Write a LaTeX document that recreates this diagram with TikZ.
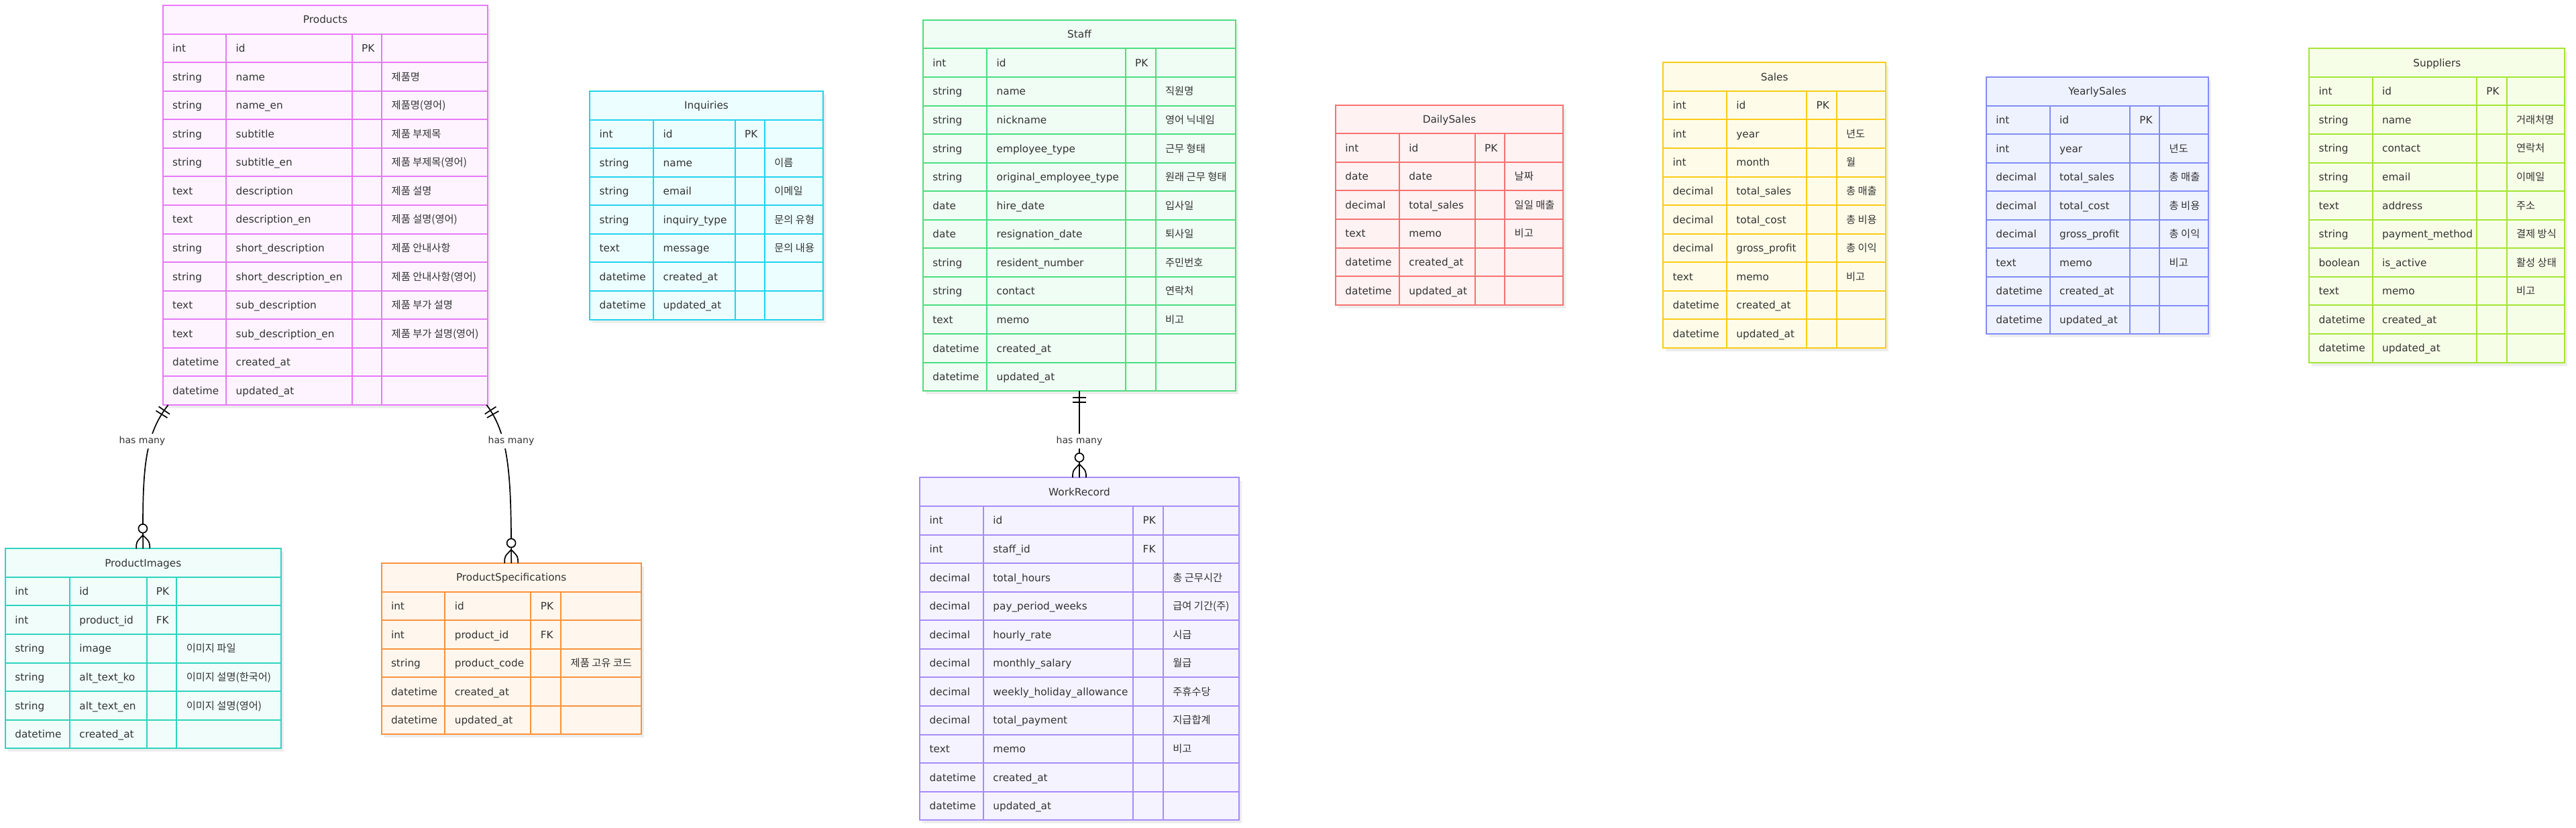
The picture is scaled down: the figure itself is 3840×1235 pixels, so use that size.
\documentclass[tikz,border=0pt]{standalone}
\usepackage{fontspec}
\setmainfont{DejaVu Sans}
\newfontfamily\cjk{Noto Sans CJK KR}
\usetikzlibrary{decorations.markings}
\definecolor{txt}{HTML}{333333}
\definecolor{pbd}{HTML}{E879F9}\definecolor{pbg}{HTML}{FDF4FF}
\definecolor{tbd}{HTML}{2DD4BF}\definecolor{tbg}{HTML}{F0FDFA}
\definecolor{obd}{HTML}{FB923C}\definecolor{obg}{HTML}{FFF7ED}
\definecolor{cbd}{HTML}{22D3EE}\definecolor{cbg}{HTML}{ECFEFF}
\definecolor{gbd}{HTML}{4ADE80}\definecolor{gbg}{HTML}{F0FDF4}
\definecolor{vbd}{HTML}{A78BFA}\definecolor{vbg}{HTML}{F5F3FF}
\definecolor{rbd}{HTML}{F87171}\definecolor{rbg}{HTML}{FEF2F2}
\definecolor{ybd}{HTML}{FACC15}\definecolor{ybg}{HTML}{FEFCE8}
\definecolor{ibd}{HTML}{818CF8}\definecolor{ibg}{HTML}{EEF2FF}
\definecolor{lbd}{HTML}{A3E635}\definecolor{lbg}{HTML}{F7FEE7}
\definecolor{shd}{HTML}{EDEDED}
\tikzset{
  tbl/.style={draw=#1bd, fill=#1bg, line width=1pt, inner sep=0pt, outer sep=0pt, anchor=north west},
  tgrid/.style={draw=#1bd, line width=1pt},
  ercell/.style={anchor=west, inner sep=0pt, text=txt, font=\fontsize{7.65pt}{9pt}\selectfont, text height=7pt, text depth=1.34pt},
  ernote/.style={ercell, font=\cjk\fontsize{7.65pt}{9pt}\selectfont},
  ertitle/.style={anchor=center, inner sep=0pt, text=txt, font=\fontsize{7.65pt}{9pt}\selectfont, text height=7pt, text depth=1.34pt},
  erel/.style={draw=black, line width=0.85pt},
  lbl/.style={fill=white, text=txt, font=\fontsize{7pt}{8.4pt}\selectfont, inner xsep=1pt, inner ysep=2.2pt},
  onestart/.style={postaction={decorate, decoration={markings,
      mark=at position 5pt with {\draw[erel] (0pt,-5pt) -- (0pt,5pt);},
      mark=at position 8.5pt with {\draw[erel] (0pt,-5pt) -- (0pt,5pt);}}}},
  manyend/.style={postaction={decorate, decoration={markings,
      mark=at position 1 with {\draw[erel] (-10pt,0pt) .. controls (-5pt,5pt) .. (0pt,5pt);
        \draw[erel] (-10pt,0pt) .. controls (-5pt,-5pt) .. (0pt,-5pt);
        \draw[erel, fill=white] (-15pt,0pt) circle (3.25pt);}}}},
}
% #1 name, #2 colour prefix, #3 x-columns, #4 top, #5 rows, #6 title, #7 rows data
\newcommand\ertable[7]{%
  \foreach \xa/\xb/\xc/\xd/\xe in {#3}{%
    \pgfmathsetmacro\yb{#4+(#5+1)*42.57}%
    \fill[shd] (\xa+4,#4+5) rectangle (\xe+4,\yb+5);
    \node[tbl=#2, minimum width={(\xe-\xa)*0.5pt}, minimum height={(\yb-#4)*0.5pt}] (#1) at (\xa,#4) {};
    \foreach \k in {1,...,#5}{%
      \pgfmathsetmacro\yl{#4+\k*42.57}%
      \draw[tgrid=#2] (\xa,\yl) -- (\xe,\yl);
    }
    \foreach \xx in {\xb,\xc,\xd}{%
      \draw[tgrid=#2] (\xx,#4+42.57) -- (\xx,\yb);
    }
    \node[ertitle] (#1-title) at ({(\xa+\xe)/2},#4+21.285) {#6};
    \foreach \ty/\nm/\ky/\cm [count=\i] in {#7}{%
      \pgfmathsetmacro\yc{#4+(\i+0.5)*42.57}%
      \node[ercell] (#1-\i-type) at (\xa+14,\yc) {\ty};
      \node[ercell] (#1-\i-name) at (\xb+14,\yc) {\nm};
      \node[ercell] (#1-\i-key) at (\xc+14,\yc) {\ky};
      \node[ernote] (#1-\i-note) at (\xd+14,\yc) {\cm};
    }
  }%
}
\begin{document}
\begin{tikzpicture}[x=0.5pt, y=-0.5pt]
\fill[white] (0,0) rectangle (3840,1235);
\useasboundingbox (0,0) rectangle (3840,1235);

\ertable{products}{p}{242.7/337.3/524.7/569.3/727.3}{8}{13}{Products}{
  int/id/PK/{},
  string/name/{}/제품명,
  string/name\_en/{}/제품명(영어),
  string/subtitle/{}/제품 부제목,
  string/subtitle\_en/{}/제품 부제목(영어),
  text/description/{}/제품 설명,
  text/description\_en/{}/제품 설명(영어),
  string/short\_description/{}/제품 안내사항,
  string/short\_description\_en/{}/제품 안내사항(영어),
  text/sub\_description/{}/제품 부가 설명,
  text/sub\_description\_en/{}/제품 부가 설명(영어),
  datetime/created\_at/{}/{},
  datetime/updated\_at/{}/{}}

\ertable{pimages}{t}{8/104/218.5/263.4/418.5}{818.3}{6}{ProductImages}{
  int/id/PK/{},
  int/product\_id/FK/{},
  string/image/{}/이미지 파일,
  string/alt\_text\_ko/{}/이미지 설명(한국어),
  string/alt\_text\_en/{}/이미지 설명(영어),
  datetime/created\_at/{}/{}}

\ertable{pspecs}{o}{568.6/663.4/791.4/836.3/955.7}{840}{5}{ProductSpecifications}{
  int/id/PK/{},
  int/product\_id/FK/{},
  string/product\_code/{}/제품 고유 코드,
  datetime/created\_at/{}/{},
  datetime/updated\_at/{}/{}}

\ertable{inquiries}{c}{879.3/974.3/1095.7/1140/1226.7}{136}{7}{Inquiries}{
  int/id/PK/{},
  string/name/{}/이름,
  string/email/{}/이메일,
  string/inquiry\_type/{}/문의 유형,
  text/message/{}/문의 내용,
  datetime/created\_at/{}/{},
  datetime/updated\_at/{}/{}}

\ertable{staff}{g}{1376/1471.3/1677.7/1722.7/1842}{29.8}{12}{Staff}{
  int/id/PK/{},
  string/name/{}/직원명,
  string/nickname/{}/영어 닉네임,
  string/employee\_type/{}/근무 형태,
  string/original\_employee\_type/{}/원래 근무 형태,
  date/hire\_date/{}/입사일,
  date/resignation\_date/{}/퇴사일,
  string/resident\_number/{}/주민번호,
  string/contact/{}/연락처,
  text/memo/{}/비고,
  datetime/created\_at/{}/{},
  datetime/updated\_at/{}/{}}

\ertable{workrec}{v}{1371.3/1466/1689.3/1734/1846.7}{712.4}{11}{WorkRecord}{
  int/id/PK/{},
  int/staff\_id/FK/{},
  decimal/total\_hours/{}/총 근무시간,
  decimal/pay\_period\_weeks/{}/급여 기간(주),
  decimal/hourly\_rate/{}/시급,
  decimal/monthly\_salary/{}/월급,
  decimal/weekly\_holiday\_allowance/{}/주휴수당,
  decimal/total\_payment/{}/지급합계,
  text/memo/{}/비고,
  datetime/created\_at/{}/{},
  datetime/updated\_at/{}/{}}

\ertable{dailysales}{r}{1991/2086/2198.7/2243.3/2330}{156.7}{6}{DailySales}{
  int/id/PK/{},
  date/date/{}/날짜,
  decimal/total\_sales/{}/일일 매출,
  text/memo/{}/비고,
  datetime/created\_at/{}/{},
  datetime/updated\_at/{}/{}}

\ertable{sales}{y}{2479.3/2574/2693.3/2737.7/2811}{93.3}{9}{Sales}{
  int/id/PK/{},
  int/year/{}/년도,
  int/month/{}/월,
  decimal/total\_sales/{}/총 매출,
  decimal/total\_cost/{}/총 비용,
  decimal/gross\_profit/{}/총 이익,
  text/memo/{}/비고,
  datetime/created\_at/{}/{},
  datetime/updated\_at/{}/{}}

\ertable{yearlysales}{i}{2961/3055.7/3175/3219.3/3292}{115}{8}{YearlySales}{
  int/id/PK/{},
  int/year/{}/년도,
  decimal/total\_sales/{}/총 매출,
  decimal/total\_cost/{}/총 비용,
  decimal/gross\_profit/{}/총 이익,
  text/memo/{}/비고,
  datetime/created\_at/{}/{},
  datetime/updated\_at/{}/{}}

\ertable{suppliers}{l}{3442.3/3536.7/3692/3736.7/3823.3}{72.3}{10}{Suppliers}{
  int/id/PK/{},
  string/name/{}/거래처명,
  string/contact/{}/연락처,
  string/email/{}/이메일,
  text/address/{}/주소,
  string/payment\_method/{}/결제 방식,
  boolean/is\_active/{}/활성 상태,
  text/memo/{}/비고,
  datetime/created\_at/{}/{},
  datetime/updated\_at/{}/{}}

% relationships
\draw[erel, onestart, manyend] ([xshift=4pt]products.south west) .. controls (215,650) and (212,700) .. (pimages.north);
\draw[erel, onestart, manyend] ([xshift=-1pt]products.south east) .. controls (761,650) and (762,720) .. (pspecs.north);
\draw[erel, onestart, manyend] (staff.south) -- (workrec.north);
\node[lbl] (lab1) at (212,658) {has many};
\node[lbl] (lab2) at (762,658) {has many};
\node[lbl] (lab3) at (1609,658) {has many};
\end{tikzpicture}
\end{document}
